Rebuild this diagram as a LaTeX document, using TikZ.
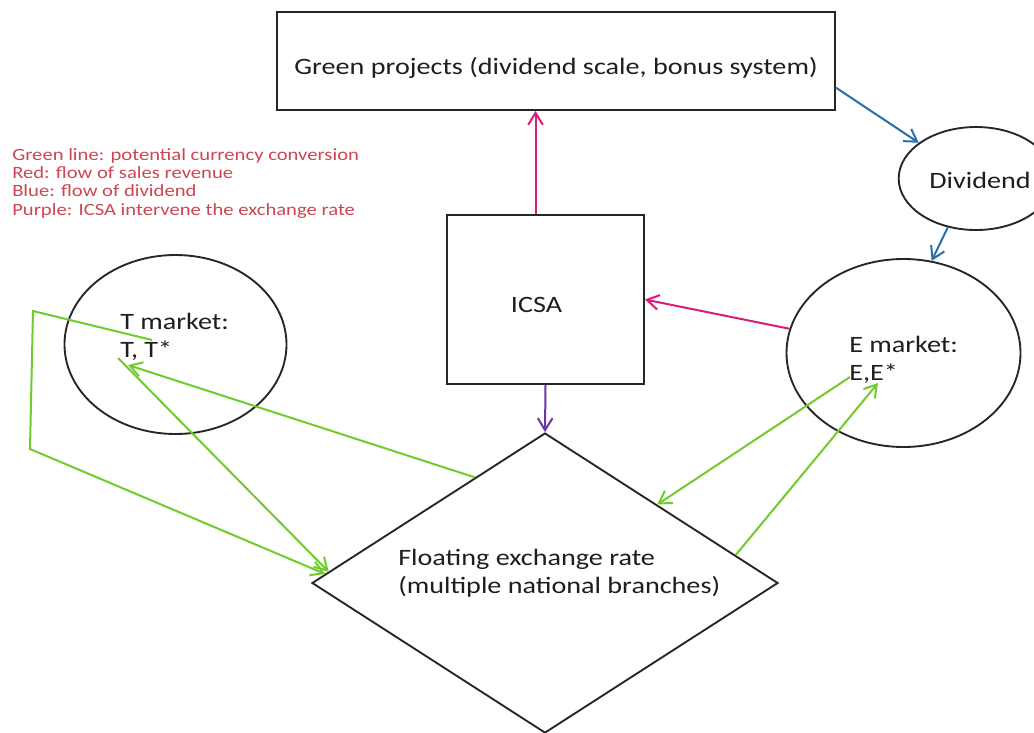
\documentclass[tikz,border=0pt]{standalone}
\usepackage{fontspec}
\setmainfont{Carlito}[FakeStretch=1.2]
\usetikzlibrary{shapes.geometric,arrows.meta,calc}
\definecolor{gline}{RGB}{112,204,44}
\definecolor{rline}{RGB}{214,30,120}
\definecolor{bline}{RGB}{40,112,172}
\definecolor{pline}{RGB}{104,56,164}
\definecolor{legred}{RGB}{205,70,82}
\definecolor{txt}{RGB}{30,30,30}
\tikzset{
  outl/.style={draw=black!85, line width=1.4pt, inner sep=0pt, text=txt,
    font=\fontsize{17.6pt}{21pt}\selectfont},
  boxshape/.style={outl, rectangle},
  ellshape/.style={outl, ellipse},
  lbl/.style={inner sep=0pt, text=txt, font=\fontsize{17.6pt}{21pt}\selectfont},
  conn/.style={line width=1.5pt, -{Straight Barb[length=9pt,width=11pt]}},
  gconn/.style={conn, draw=gline},
  rconn/.style={conn, draw=rline},
  bconn/.style={conn, draw=bline},
  pconn/.style={conn, draw=pline},
}
\begin{document}
\begin{tikzpicture}[x=0.75pt,y=-0.75pt]
\useasboundingbox[fill=white] (0,0) rectangle (1034,732);

% nodes
\node[boxshape, minimum width=418.5pt, minimum height=73.5pt,
      text height=19.5pt, text depth=0pt] (green) at (556,61)
      {Green projects (dividend scale, bonus system)};
\node[boxshape, minimum width=147.75pt, minimum height=126.75pt,
      text height=19pt, text depth=0pt] (icsa) at (545.5,299.5)
      {ICSA\hspace*{13.5pt}};
\node[ellshape, minimum width=87pt, minimum height=77.25pt,
      text height=14.25pt, text depth=0pt] (div) at (976,178.5)
      {\hspace*{6pt}Dividend};
\node[ellshape, minimum width=166.5pt, minimum height=134.25pt] (tmk) at (175.5,344.5) {};
\node[ellshape, minimum width=175.5pt, minimum height=141pt] (emk) at (903.5,353) {};
\node[outl, diamond, minimum width=349.5pt, minimum height=225pt] (fl) at (545,583) {};

\node[lbl, anchor=base west, align=left] (tmktxt) at (120,357) {T market:\\T, T*};
\node[lbl, anchor=base west, align=left] (emktxt) at (849,380) {E market:\\E,E*};
\node[lbl, anchor=base west, align=left] (fltxt) at (398,593)
  {Floating exchange rate\\(multiple national branches)};

\node[inner sep=0pt, anchor=base west, align=left, text=legred,
      font=\fontsize{12.9pt}{13.75pt}\selectfont] (leg) at (12,215)
  {Green line: potential currency conversion\\
   Red: flow of sales revenue\\
   Blue: flow of dividend\\
   Purple: ICSA intervene the exchange rate};

% helper coordinates
\coordinate (t1) at ($(tmk.center)+(-23.5,-4.5)$);
\coordinate (t2) at ($(tmk.center)+(-57.5,13.5)$);
\coordinate (t3) at ($(tmk.center)+(-47.5,20.5)$);
\coordinate (c1) at (33,311);
\coordinate (c2) at (30,449);
\coordinate (e1) at ($(emk.center)+(-53.5,24)$);
\coordinate (e2) at ($(emk.center)+(-25.5,30)$);
\coordinate (dl1) at ($(fl.west)!0.06!(fl.north)$);
\coordinate (dl2) at ($(fl.west)!0.075!(fl.north)$);
\coordinate (dtl) at ($(fl.west)!0.70!(fl.north)$);
\coordinate (dtr1) at ($(fl.north)!0.48!(fl.east)$);
\coordinate (dtr2) at ($(fl.north)!0.815!(fl.east)$);

% connectors
\draw[rconn] ([xshift=-7.5pt]icsa.north) -- ([xshift=-7.5pt]icsa.north |- green.south);
\draw[rconn] (emk.168) -- (icsa.east);
\draw[pconn] (icsa.south) -- (fl.north);
\draw[bconn] ([yshift=-20pt]green.east) -- (div.148);
\draw[bconn] (div.240) -- (emk.73);

\draw[gconn] (t1) -- (c1) -- (c2) -- (dl1);
\draw[gconn] (t2) -- (dl2);
\draw[gconn] (dtl) -- (t3);
\draw[gconn] (e1) -- (dtr1);
\draw[gconn] (dtr2) -- (e2);
\end{tikzpicture}
\end{document}
